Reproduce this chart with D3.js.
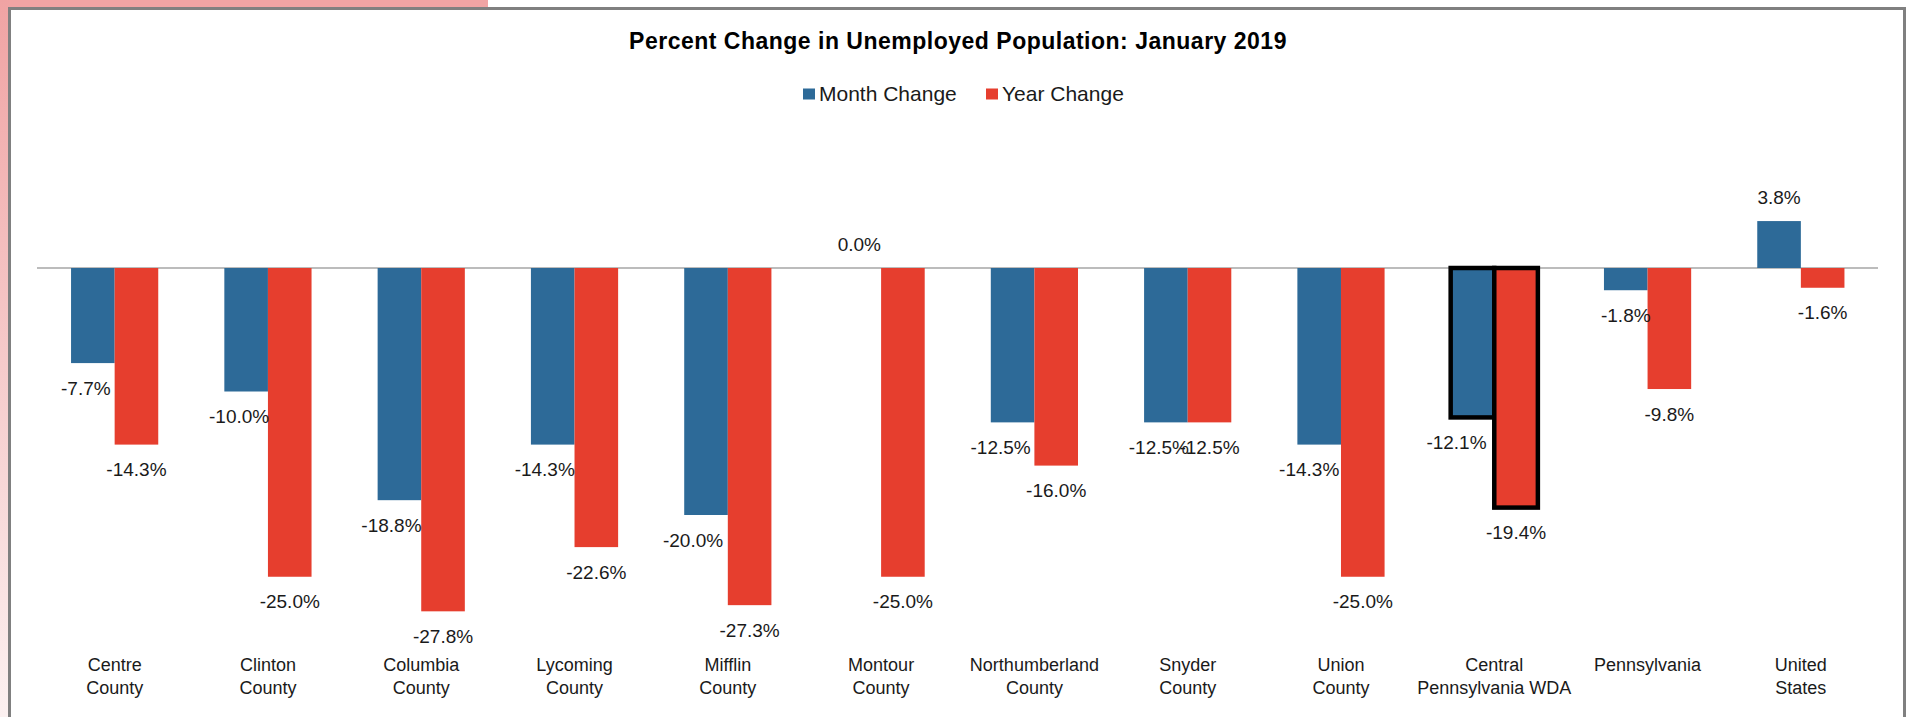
<!DOCTYPE html>
<html>
<head>
  <meta charset="utf-8">
  <title>Percent Change in Unemployed Population</title>
  <style>
   html, body {
     width: 100%;
     height: 100%;
     margin: 0;
     padding: 0;
     background: #fff;
   }
   svg text {
     font-family: "Liberation Sans", Arial, sans-serif;
     fill: #1a1a1a;
   }
  </style>
</head>
<body>
  <div id="chart"></div>
  <script src="https://d3js.org/d3.v7.min.js"></script>
  <script>
// chart data
var regions = [
  ["Centre", "County"], ["Clinton", "County"], ["Columbia", "County"],
  ["Lycoming", "County"], ["Mifflin", "County"], ["Montour", "County"],
  ["Northumberland", "County"], ["Snyder", "County"], ["Union", "County"],
  ["Central", "Pennsylvania WDA"], ["Pennsylvania"], ["United", "States"]
];
var monthChange = [-7.7, -10.0, -18.8, -14.3, -20.0, 0.0, -12.5, -12.5, -14.3, -12.1, -1.8, 3.8];
var yearChange = [-14.3, -25.0, -27.8, -22.6, -27.3, -25.0, -16.0, -12.5, -25.0, -19.4, -9.8, -1.6];
var seriesNames = ["Month Change", "Year Change"];
var highlighted = "Central";

var width = 1908, height = 717;
var colors = { "Month Change": "#2d6a98", "Year Change": "#e63e2e" };

// month labels were nudged left in the original to clear the red bars
var monthLabelShift = [-7, -7, -8, -8, -13, 0, -12, -7, -10, -16, 0, 0];

var svg = d3.select("#chart")
  .append("svg")
  .attr("width", width)
  .attr("height", height);

// pink frame behind the chart box
var grad = svg.append("defs").append("linearGradient")
  .attr("id", "pinkFade")
  .attr("x1", 0).attr("y1", 0).attr("x2", 0).attr("y2", 1);
grad.append("stop").attr("offset", "0%").attr("stop-color", "#f0a3a3");
grad.append("stop").attr("offset", "100%").attr("stop-color", "#fcf1f1");

svg.append("rect").attr("x", 0).attr("y", 0).attr("width", 488).attr("height", 8).attr("fill", "#f0a4a4");
svg.append("rect").attr("x", 0).attr("y", 0).attr("width", 9).attr("height", height).attr("fill", "url(#pinkFade)");

// chart box border
svg.append("rect")
  .attr("x", 9.5).attr("y", 8.5)
  .attr("width", 1895).attr("height", height + 10)
  .attr("fill", "#fff")
  .attr("stroke", "#808080")
  .attr("stroke-width", 3);

var keys = regions.map(function(d) { return d[0]; });
var rows = regions.map(function(d, i) {
  return { key: d[0], lines: d, values: [monthChange[i], yearChange[i]], i: i };
});

var x0 = d3.scaleBand().domain(keys).range([38, 1877.5]).padding(0);
var barW = 43.6;
var x1 = d3.scaleBand().domain(seriesNames).range([-barW, barW]);
var y = d3.scaleLinear().domain([-30, 5]).range([638.5, 206.25]);

function pct(v) {
  // plain hyphen for the minus sign, like the original
  return d3.format(".1f")(v).replace("\u2212", "-") + "%";
}

// title
svg.append("text")
  .attr("x", 958).attr("y", 41)
  .attr("dy", "0.35em")
  .attr("text-anchor", "middle")
  .style("font-weight", "bold")
  .style("font-size", "23px")
  .style("letter-spacing", "0.5px")
  .style("fill", "#000")
  .text("Percent Change in Unemployed Population: January 2019");

// legend
var legendX = [803, 986];
var legend = svg.selectAll(".legend")
  .data(seriesNames)
  .enter().append("g")
  .attr("class", "legend")
  .attr("transform", function(d, i) { return "translate(" + legendX[i] + ",94)"; });
legend.append("rect")
  .attr("x", 0).attr("y", -5.5)
  .attr("width", 12).attr("height", 11)
  .attr("fill", function(d) { return colors[d]; });
legend.append("text")
  .attr("x", 16).attr("dy", "0.35em")
  .style("font-size", "21px")
  .text(function(d) { return d; });

// zero line
svg.append("line")
  .attr("x1", 37).attr("x2", 1878)
  .attr("y1", y(0)).attr("y2", y(0))
  .attr("stroke", "#a6a6a6")
  .attr("stroke-width", 1.5);

var group = svg.selectAll(".group")
  .data(rows)
  .enter().append("g")
  .attr("class", "group")
  .attr("transform", function(d) { return "translate(" + (x0(d.key) + x0.bandwidth() / 2) + ",0)"; });

var bars = group.selectAll(".bar")
  .data(function(d) {
    return seriesNames.map(function(s, j) { return { series: s, value: d.values[j], row: d }; });
  })
  .enter();

bars.append("rect")
  .attr("class", "bar")
  .attr("x", function(d) { return x1(d.series); })
  .attr("width", x1.bandwidth())
  .attr("y", function(d) { return y(Math.max(0, d.value)); })
  .attr("height", function(d) { return Math.abs(y(d.value) - y(0)); })
  .attr("fill", function(d) { return colors[d.series]; })
  .attr("stroke", function(d) { return d.row.key === highlighted ? "#000" : "none"; })
  .attr("stroke-width", 4.5);

bars.append("text")
  .attr("x", function(d) {
    var shift = d.series === "Month Change" ? monthLabelShift[d.row.i] : 0;
    return x1(d.series) + x1.bandwidth() / 2 + shift;
  })
  .attr("y", function(d) { return d.value < 0 ? y(d.value) + 25 : y(d.value) - 23.5; })
  .attr("dy", "0.35em")
  .attr("text-anchor", "middle")
  .style("font-size", "19px")
  .text(function(d) { return pct(d.value); });

// category labels
group.append("text")
  .attr("text-anchor", "middle")
  .style("font-size", "18px")
  .selectAll("tspan")
  .data(function(d) { return d.lines; })
  .enter().append("tspan")
  .attr("x", 0)
  .attr("y", function(d, i) { return 665 + i * 23; })
  .attr("dy", "0.35em")
  .text(function(d) { return d; });
  </script>
</body>
</html>
